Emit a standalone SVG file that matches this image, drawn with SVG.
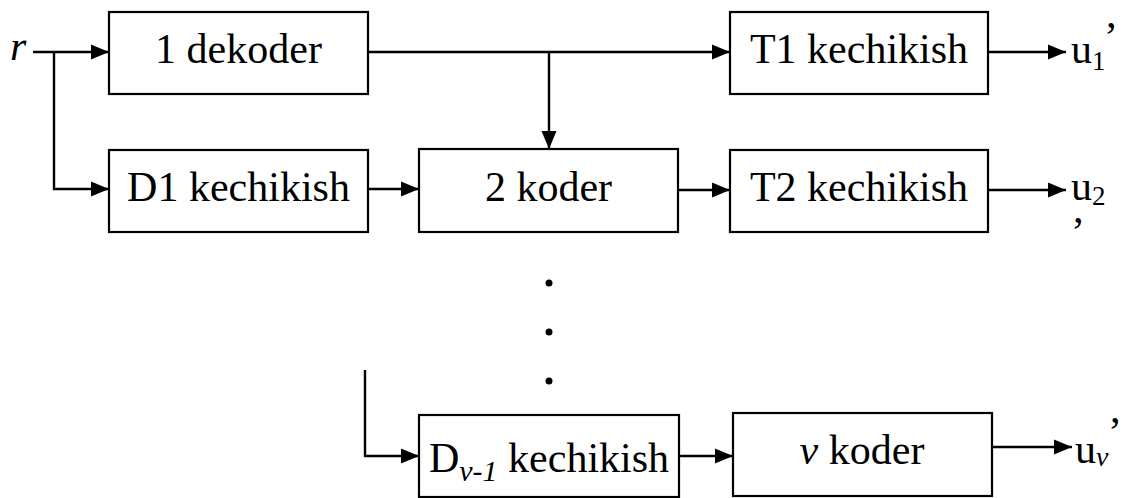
<svg xmlns="http://www.w3.org/2000/svg" width="1123" height="498" viewBox="0 0 1123 498">
<style>
.box{fill:#fff;stroke:#000;stroke-width:2.2}
.t{font-family:"Liberation Serif","Times New Roman",serif;font-size:42px;fill:#000}
.c{text-anchor:middle}
.i{font-style:italic}
.ln{fill:none;stroke:#000;stroke-width:2.4}
</style>
<defs>
<marker id="ah" markerUnits="userSpaceOnUse" markerWidth="20" markerHeight="16" refX="18" refY="7.5" orient="auto" overflow="visible">
<path d="M0,0 L18,7.5 L0,15 z" fill="#000"/>
</marker>
</defs>
<rect width="1123" height="498" fill="#fff"/>
<g id="connectors">
<path class="ln" d="M33,52 H109" marker-end="url(#ah)"/>
<path class="ln" d="M54,52 V189 H109" marker-end="url(#ah)"/>
<path class="ln" d="M368,52 H730" marker-end="url(#ah)"/>
<path class="ln" d="M549,52 V149" marker-end="url(#ah)"/>
<path class="ln" d="M368,189 H419" marker-end="url(#ah)"/>
<path class="ln" d="M678,190 H730" marker-end="url(#ah)"/>
<path class="ln" d="M988,52 H1066" marker-end="url(#ah)"/>
<path class="ln" d="M988,190 H1066" marker-end="url(#ah)"/>
<path class="ln" d="M365,370 V456 H419" marker-end="url(#ah)"/>
<path class="ln" d="M679,456 H733" marker-end="url(#ah)"/>
<path class="ln" d="M992,447 H1072" marker-end="url(#ah)"/>
</g>
<g id="input-r"><text class="t i" x="10" y="60">r</text></g>
<g id="dekoder1"><rect class="box" x="109" y="12" width="259" height="82"/><text class="t c" x="238.5" y="63">1 dekoder</text></g>
<g id="t1"><rect class="box" x="730" y="12" width="258" height="82"/><text class="t c" x="859" y="63">T1 kechikish</text></g>
<g id="d1"><rect class="box" x="109" y="150" width="259" height="82"/><text class="t c" x="238.5" y="201">D1 kechikish</text></g>
<g id="koder2"><rect class="box" x="419" y="149" width="259" height="83"/><text class="t c" x="548.5" y="201">2 koder</text></g>
<g id="t2"><rect class="box" x="730" y="150" width="258" height="82"/><text class="t c" x="859" y="201">T2 kechikish</text></g>
<g id="dv1"><rect class="box" x="419" y="415" width="260" height="82"/><text class="t c" x="549" y="472">D<tspan class="i" font-size="30" dy="9">v-1</tspan><tspan dy="-9"> kechikish</tspan></text></g>
<g id="koderv"><rect class="box" x="733" y="413" width="259" height="83"/><text class="t c" x="862" y="464"><tspan class="i">v</tspan> koder</text></g>
<g id="dots" fill="#000"><circle cx="549" cy="283" r="3.5"/><circle cx="549" cy="332" r="3.5"/><circle cx="549" cy="381" r="3.5"/></g>
<g id="out-u1"><text class="t" x="1071" y="63">u<tspan font-size="27" dy="7">1</tspan></text><text class="t" x="1104" y="51">’</text></g>
<g id="out-u2"><text class="t" x="1071" y="200">u<tspan font-size="27" dy="5">2</tspan></text><text class="t" x="1071" y="246">’</text></g>
<g id="out-uv"><text class="t" x="1075" y="463">u<tspan class="i" font-size="28" dy="3">v</tspan></text><text class="t" x="1108" y="446">’</text></g>
</svg>
